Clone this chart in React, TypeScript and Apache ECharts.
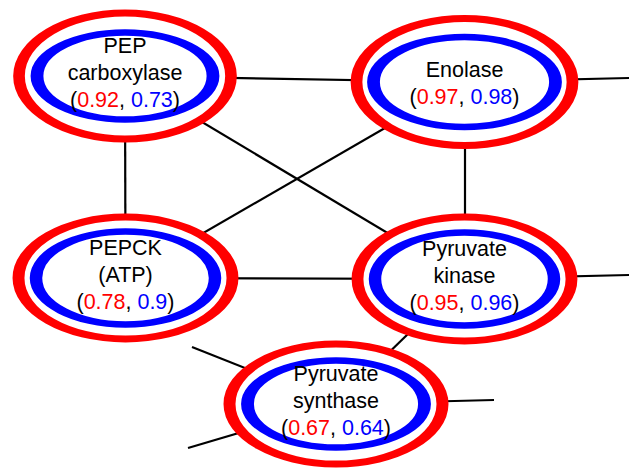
import React, { useEffect, useRef } from "react";
import * as echarts from "echarts";

// Enzyme nodes
const enzymes = ["PEP\ncarboxylase", "Enolase", "PEPCK\n(ATP)", "Pyruvate\nkinase", "Pyruvate\nsynthase"];
const redScores = [0.92, 0.97, 0.78, 0.95, 0.67];
const blueScores = [0.73, 0.98, 0.9, 0.96, 0.64];
// node layout (axis units, y grows downward)
const nodeX = [125, 464.5, 125.5, 464.5, 336];
const nodeY = [76, 82, 278, 279, 404];
// connections between enzymes (index pairs)
const linkSource = [0, 0, 0, 1, 1, 2, 3];
const linkTarget = [1, 2, 3, 2, 3, 3, 4];
// connections leaving the picture (enzyme index -> loose end)
const stubSource = [1, 3, 4, 4, 4];
const stubX = [629, 629, 192, 188, 494];
const stubY = [78, 275, 347, 448, 400];

// ring sizes (styling)
const outerSizes = [[212, 126], [216, 127], [214, 122], [214, 124], [213, 120]];
const innerSizes = [[176, 87], [182, 90], [179, 93], [179, 93], [177, 87]];

const ELLIPSE =
  "path://M0,50 C0,22.386 22.386,0 50,0 C77.614,0 100,22.386 100,50 C100,77.614 77.614,100 50,100 C22.386,100 0,77.614 0,50 Z";

const FONT = "'Liberation Sans', Arial, sans-serif";

export default function App() {
  const ref = useRef<HTMLDivElement>(null);
  useEffect(() => {
    document.body.style.margin = "0";
    const chart = echarts.init(ref.current!, null, { renderer: "svg" });

    const graphNodes: any[] = enzymes.map((name, i) => ({
      name: "n" + i,
      value: [nodeX[i], nodeY[i]],
      symbol: ELLIPSE,
      symbolSize: outerSizes[i],
      itemStyle: { color: "#ffffff", borderColor: "#ff0000", borderWidth: 9 },
    }));
    stubSource.forEach((s, k) => {
      graphNodes.push({
        name: "s" + k,
        value: [stubX[k], stubY[k]],
        symbol: "circle",
        symbolSize: 0,
        itemStyle: { opacity: 0 },
      });
    });
    const graphLinks: any[] = linkSource.map((s, k) => ({ source: "n" + s, target: "n" + linkTarget[k] }));
    stubSource.forEach((s, k) => graphLinks.push({ source: "n" + s, target: "s" + k }));

    const richBase = { fontSize: 21.5, fontFamily: FONT, lineHeight: 27 };

    chart.setOption({
      animation: false,
      grid: { left: 0, right: 0, top: 0, bottom: 0 },
      xAxis: { type: "value", min: 0, max: 629, show: false },
      yAxis: { type: "value", min: 0, max: 469, inverse: true, show: false },
      series: [
        {
          type: "graph",
          coordinateSystem: "cartesian2d",
          layout: "none",
          data: graphNodes,
          links: graphLinks,
          edgeSymbol: ["none", "none"],
          lineStyle: { color: "#000000", width: 2.2, opacity: 1, curveness: 0 },
          label: { show: false },
          emphasis: { disabled: true },
          silent: true,
        },
        {
          type: "scatter",
          clip: false,
          symbol: ELLIPSE,
          itemStyle: { color: "rgba(0,0,0,0)", borderColor: "#0000ff", borderWidth: 9, opacity: 1 },
          data: enzymes.map((name, i) => ({
            value: [nodeX[i], nodeY[i]],
            symbolSize: innerSizes[i],
            label: { offset: [0, name.includes("\n") ? -3 : 1] },
          })),
          label: {
            show: true,
            position: "inside",
            formatter: (p: any) => {
              const i = p.dataIndex;
              const lines = enzymes[i].split("\n").map((l) => "{n|" + l + "}");
              lines.push("{n|(}{r|" + redScores[i] + "}{n|, }{b|" + blueScores[i] + "}{n|)}");
              return lines.join("\n");
            },
            rich: {
              n: { ...richBase, color: "#000000" },
              r: { ...richBase, color: "#ff0000" },
              b: { ...richBase, color: "#0000ff" },
            },
          },
          emphasis: { disabled: true },
          silent: true,
          z: 3,
        },
      ],
    });
    return () => chart.dispose();
  }, []);
  return <div ref={ref} style={{ width: 629, height: 469 }} />;
}
